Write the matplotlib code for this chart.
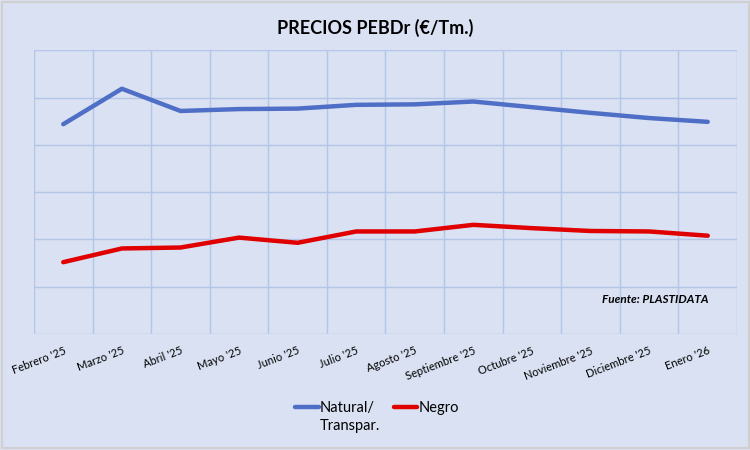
import matplotlib
matplotlib.use("Agg")
import matplotlib.pyplot as plt
from matplotlib.patches import Rectangle

plt.rcParams['font.family'] = ['Lato', 'DejaVu Sans']

meses = ["Febrero '25", "Marzo '25", "Abril '25", "Mayo '25", "Junio '25", "Julio '25",
         "Agosto '25", "Septiembre '25", "Octubre '25", "Noviembre '25", "Diciembre '25", "Enero '26"]
natural = [1044, 1119, 1072, 1076, 1077, 1085, 1086, 1092, 1080, 1068, 1057, 1049]
negro = [752, 781, 783, 804, 793, 817, 817, 831, 824, 818, 817, 808]

bg = '#D9E1F2'
grid_c = '#B4C6E7'

fig = plt.figure(figsize=(7.5, 4.5), dpi=100, facecolor=bg)
fig.patches.append(Rectangle((0.002, 0.004), 0.996, 0.992, transform=fig.transFigure,
                             fill=False, edgecolor='#D0D0D0', lw=1.5))
ax = fig.add_axes([0.0453, 0.2578, 0.9374, 0.63])
ax.set_facecolor(bg)

x = list(range(len(meses)))
ax.plot(x, natural, color='#4F6FC7', lw=3.2, solid_capstyle='round', label='Natural/')
ax.plot(x, negro, color='#E00000', lw=3.2, solid_capstyle='round', label='Negro')

ax.set_xlim(-0.5, len(meses) - 0.5)
ax.set_ylim(600, 1200)
ax.set_yticks(range(600, 1201, 100))
ax.set_xticks(x)
ax.set_xticks([i + 0.5 for i in range(-1, len(meses))], minor=True)
ax.set_xticklabels(meses, rotation=21, ha='right', rotation_mode='anchor', fontsize=8)
ax.tick_params(axis='x', which='both', length=0, pad=8)
ax.tick_params(axis='y', length=0, labelleft=False)
ax.grid(True, axis='y', color=grid_c, lw=1)
ax.grid(True, axis='x', which='minor', color=grid_c, lw=1)
ax.set_axisbelow(True)
for s in ax.spines.values():
    s.set_visible(False)

ax.text(0.960, 0.12, 'Fuente: PLASTIDATA', transform=ax.transAxes, ha='right', va='center',
        fontsize=8.5, fontweight='bold', fontstyle='italic')

fig.text(0.5, 0.938, 'PRECIOS PEBDr (€/Tm.)', ha='center', va='center',
         fontsize=13, fontweight='bold')

leg = fig.legend(loc='center', bbox_to_anchor=(0.503, 0.093), ncol=2, frameon=False,
                 fontsize=10.5, handlelength=1.6, handletextpad=0.1, columnspacing=1.3)

fig.canvas.draw()
bb = leg.get_texts()[0].get_window_extent()
fig.text(bb.x0 / fig.bbox.width, (bb.y0 - 4) / fig.bbox.height, 'Transpar.',
         ha='left', va='top', fontsize=10.5)

fig.savefig('out.png', dpi=100, facecolor=bg)
